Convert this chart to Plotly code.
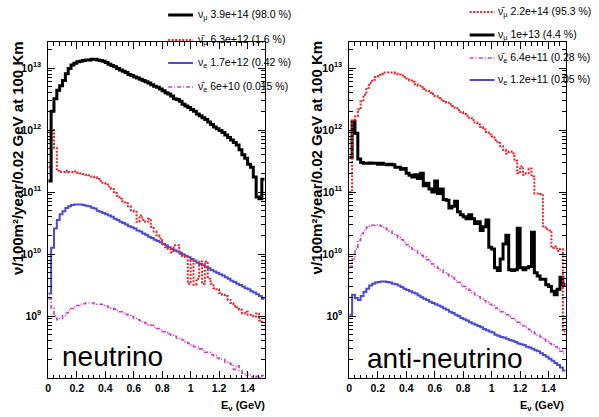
import plotly.graph_objects as go

# ---------------- data (flux per 0.02 GeV bin, bins start at E = 0.00 ... 1.50 GeV) ----------------
BIN_WIDTH = 0.02
N_BINS = 76

# neutrino mode (left panel)
nu_numu = [1.5e11, 2.0e12, 3.2e12, 4.4e12, 5.2e12, 6.3e12, 8.1e12, 9.8e12, 1.12e13, 1.20e13,
           1.26e13, 1.29e13, 1.32e13, 1.35e13, 1.35e13, 1.38e13, 1.38e13, 1.35e13, 1.32e13, 1.29e13,
           1.23e13, 1.15e13, 1.10e13, 1.05e13, 9.8e12, 9.3e12, 8.9e12, 8.5e12, 7.9e12, 7.6e12,
           7.2e12, 6.9e12, 6.6e12, 6.3e12, 6.0e12, 5.75e12, 5.4e12, 5.1e12, 4.9e12, 4.6e12,
           4.3e12, 4.0e12, 3.8e12, 3.55e12, 3.2e12, 3.1e12, 2.9e12, 2.6e12, 2.45e12, 2.3e12,
           2.14e12, 2.0e12, 1.82e12, 1.70e12, 1.58e12, 1.48e12, 1.35e12, 1.23e12, 1.12e12, 1.05e12,
           9.8e11, 9.1e11, 8.3e11, 7.6e11, 6.9e11, 6.3e11, 5.75e11, 4.8e11, 4.0e11, 3.5e11,
           2.8e11, 2.5e11, 1.74e11, 8.3e10, 7.8e10, 1.6e11]
nu_anumu = [2.5e11, 1.0e12, 5.2e11, 2.2e11, 2.1e11, 2.1e11, 2.2e11, 2.1e11, 2.1e11, 2.15e11,
            2.05e11, 2.0e11, 1.95e11, 1.9e11, 1.86e11, 1.78e11, 1.74e11, 1.62e11, 1.51e11, 1.41e11,
            1.32e11, 1.23e11, 1.12e11, 1.0e11, 8.7e10, 7.8e10, 6.8e10, 6.6e10, 5.9e10, 5.1e10,
            4.8e10, 3.3e10, 4.2e10, 3.55e10, 3.3e10, 3.7e10, 2.75e10, 2.3e10, 2.0e10, 1.78e10,
            1.45e10, 1.29e10, 1.2e10, 1.07e10, 1.38e10, 1.38e10, 1.0e10, 9.3e9, 8.9e9, 3.3e9,
            7.9e9, 3.2e9, 4.0e9, 7.6e9, 3.3e9, 7.6e9, 4.0e9, 3.3e9, 2.8e9, 2.7e9,
            2.34e9, 2.2e9, 2.1e9, 1.82e9, 1.62e9, 1.45e9, 1.38e9, 1.26e9, 1.1e9, 1.17e9,
            1.05e9, 1.05e9, 9.8e8, 1.1e9, 8.5e8, 8.1e8]
nu_nue = [2.3e9, 1.26e10, 2.57e10, 3.55e10, 4.4e10, 4.9e10, 5.5e10, 5.9e10, 6.2e10, 6.3e10,
          6.3e10, 6.3e10, 6.2e10, 6.0e10, 5.9e10, 5.6e10, 5.4e10, 5.0e10, 4.8e10, 4.6e10,
          4.4e10, 4.2e10, 4.0e10, 3.7e10, 3.55e10, 3.3e10, 3.16e10, 3.0e10, 2.8e10, 2.7e10,
          2.57e10, 2.4e10, 2.3e10, 2.14e10, 2.04e10, 1.9e10, 1.82e10, 1.7e10, 1.62e10, 1.55e10,
          1.45e10, 1.38e10, 1.29e10, 1.2e10, 1.15e10, 1.1e10, 1.05e10, 9.8e9, 9.3e9, 8.9e9,
          8.3e9, 7.8e9, 7.2e9, 6.9e9, 6.6e9, 6.2e9, 5.9e9, 5.5e9, 5.2e9, 5.0e9,
          4.7e9, 4.5e9, 4.2e9, 4.0e9, 3.7e9, 3.55e9, 3.3e9, 3.16e9, 3.0e9, 2.8e9,
          2.7e9, 2.5e9, 2.4e9, 2.24e9, 2.1e9, 1.9e9]
nu_anue = [1.9e9, 1.32e9, 1.0e9, 8.7e8, 9.1e8, 1.02e9, 1.12e9, 1.23e9, 1.32e9, 1.41e9,
           1.48e9, 1.55e9, 1.58e9, 1.62e9, 1.62e9, 1.62e9, 1.58e9, 1.55e9, 1.55e9, 1.48e9,
           1.45e9, 1.38e9, 1.35e9, 1.29e9, 1.23e9, 1.17e9, 1.12e9, 1.07e9, 1.02e9, 9.8e8,
           9.1e8, 8.7e8, 8.5e8, 7.9e8, 7.6e8, 7.2e8, 7.1e8, 6.6e8, 6.3e8, 6.0e8,
           5.6e8, 5.4e8, 5.1e8, 4.9e8, 4.7e8, 4.4e8, 4.2e8, 4.1e8, 3.8e8, 3.6e8,
           3.4e8, 3.2e8, 3.2e8, 2.95e8, 2.8e8, 2.6e8, 2.6e8, 2.4e8, 2.3e8, 2.1e8,
           2.0e8, 2.0e8, 1.8e8, 1.74e8, 1.66e8, 1.38e8, 1.58e8, 1.32e8, 1.2e8, 1.1e8,
           1.15e8, 1.05e8, 9.5e7, 1.07e8, 1.02e8, 1.1e8]

# anti-neutrino mode (right panel)
anu_anumu = [1.0e11, 1.41e12, 1.66e12, 2.14e12, 2.9e12, 3.7e12, 4.8e12, 5.75e12, 6.5e12, 7.2e12,
             7.8e12, 8.1e12, 8.5e12, 8.5e12, 8.5e12, 8.5e12, 8.1e12, 7.9e12, 7.6e12, 7.2e12,
             6.8e12, 6.3e12, 6.0e12, 5.5e12, 5.2e12, 4.9e12, 4.6e12, 4.3e12, 4.0e12, 3.8e12,
             3.55e12, 3.3e12, 3.1e12, 2.95e12, 2.75e12, 2.6e12, 2.45e12, 2.24e12, 2.1e12, 1.95e12,
             1.82e12, 1.7e12, 1.58e12, 1.45e12, 1.32e12, 1.23e12, 1.12e12, 1.02e12, 9.3e11, 8.5e11,
             7.9e11, 6.9e11, 6.2e11, 5.5e11, 4.8e11, 4.2e11, 4.5e11, 4.2e11, 3.2e11, 2.0e11,
             2.6e11, 1.9e11, 2.0e11, 2.4e11, 1.78e11, 9.5e10, 9.5e10, 9.3e10, 2.8e10, 2.5e10,
             2.4e10, 1.26e10, 1.32e10, 1.12e10, 1.2e10, 5.6e8]
anu_numu = [3.6e11, 1.38e12, 8.9e11, 3.4e11, 3.0e11, 2.9e11, 2.9e11, 2.95e11, 2.9e11, 2.9e11,
            2.8e11, 2.9e11, 2.8e11, 2.75e11, 2.8e11, 2.75e11, 2.5e11, 2.5e11, 2.34e11, 2.4e11,
            2.0e11, 1.86e11, 1.74e11, 1.9e11, 1.66e11, 2.0e11, 1.26e11, 1.38e11, 1.12e11, 1.0e11,
            1.51e11, 9.5e10, 1.12e11, 7.6e10, 7.4e10, 5.5e10, 5.9e10, 7.1e10, 4.8e10, 4.3e10,
            4.0e10, 3.7e10, 4.3e10, 3.7e10, 3.1e10, 3.3e10, 2.4e10, 2.75e10, 3.55e10, 1.29e10,
            1.2e10, 6.0e9, 5.4e9, 8.3e9, 1.45e10, 2.0e10, 5.6e9, 5.4e9, 5.6e9, 2.6e10,
            6.0e9, 5.6e9, 6.0e9, 6.3e9, 2.24e10, 5.0e9, 4.4e9, 3.9e9, 3.9e9, 3.2e9,
            3.0e9, 2.5e9, 2.2e9, 2.7e9, 4.2e9, 3.2e9]
anu_anue = [6.3e9, 8.3e9, 1.2e10, 1.66e10, 2.14e10, 2.4e10, 2.7e10, 2.8e10, 2.9e10, 2.95e10,
            2.9e10, 2.8e10, 2.7e10, 2.5e10, 2.34e10, 2.14e10, 2.0e10, 1.82e10, 1.7e10, 1.55e10,
            1.41e10, 1.32e10, 1.2e10, 1.12e10, 1.02e10, 9.5e9, 8.9e9, 8.1e9, 7.6e9, 6.9e9,
            6.3e9, 5.9e9, 5.5e9, 5.0e9, 4.7e9, 4.4e9, 4.1e9, 3.7e9, 3.5e9, 3.2e9,
            3.0e9, 2.75e9, 2.6e9, 2.4e9, 2.2e9, 2.04e9, 1.9e9, 1.78e9, 1.66e9, 1.55e9,
            1.45e9, 1.35e9, 1.26e9, 1.17e9, 1.12e9, 1.05e9, 9.8e8, 9.1e8, 8.5e8, 7.9e8,
            7.4e8, 6.9e8, 6.5e8, 6.0e8, 5.6e8, 5.2e8, 4.9e8, 4.6e8, 4.2e8, 3.9e8,
            3.6e8, 3.4e8, 3.2e8, 2.95e8, 2.7e8, 2.5e8]
anu_nue = [1.05e9, 2.2e9, 1.95e9, 1.82e9, 2.1e9, 2.45e9, 2.75e9, 3.1e9, 3.3e9, 3.47e9,
           3.55e9, 3.6e9, 3.6e9, 3.55e9, 3.47e9, 3.3e9, 3.24e9, 3.1e9, 2.95e9, 2.75e9,
           2.63e9, 2.5e9, 2.4e9, 2.3e9, 2.14e9, 2.0e9, 1.9e9, 1.82e9, 1.7e9, 1.62e9,
           1.55e9, 1.48e9, 1.41e9, 1.32e9, 1.26e9, 1.17e9, 1.12e9, 1.05e9, 1.0e9, 9.3e8,
           8.9e8, 8.5e8, 7.9e8, 7.6e8, 7.2e8, 6.9e8, 6.6e8, 6.2e8, 5.9e8, 5.6e8,
           5.4e8, 5.0e8, 4.8e8, 4.6e8, 4.5e8, 4.3e8, 4.1e8, 4.0e8, 3.8e8, 3.6e8,
           3.5e8, 3.4e8, 3.2e8, 3.1e8, 2.95e8, 2.8e8, 2.7e8, 2.5e8, 2.34e8, 2.2e8,
           2.04e8, 1.9e8, 1.74e8, 1.62e8, 1.48e8, 1.32e8]

legend_nu = ["ν<sub>μ</sub> 3.9e+14 (98.0 %)", "ν̄<sub>μ</sub> 6.3e+12 (1.6 %)",
             "ν<sub>e</sub> 1.7e+12 (0.42 %)", "ν̄<sub>e</sub> 6e+10 (0.015 %)"]
legend_anu = ["ν̄<sub>μ</sub> 2.2e+14 (95.3 %)", "ν<sub>μ</sub> 1e+13 (4.4 %)",
              "ν̄<sub>e</sub> 6.4e+11 (0.28 %)", "ν<sub>e</sub> 1.2e+11 (0.05 %)"]
x_tick_vals = [0, 0.2, 0.4, 0.6, 0.8, 1.0, 1.2, 1.4]
x_tick_text = ["0", "0.2", "0.4", "0.6", "0.8", "1", "1.2", "1.4"]
y_tick_vals = [1e9, 1e10, 1e11, 1e12, 1e13]
y_tick_text = ["10<sup>9</sup>", "10<sup>10</sup>", "10<sup>11</sup>", "10<sup>12</sup>", "10<sup>13</sup>"]
y_title = "ν/100m²/year/0.02 GeV at 100 Km"
x_title = "E<sub>ν</sub> (GeV)"
panel_labels = ["neutrino", "anti-neutrino"]

# ---------------- styling ----------------
W, H = 599, 417
FONT = "Liberation Sans, Arial, Helvetica, sans-serif"
RED, BLUE, MAG = "#e8262a", "#4b4bd0", "#cc3dcc"
STY_NUMU = dict(color="black", width=3)
STY_ANUMU = dict(color=RED, width=2, dash="2px,1.5px")
STY_NUE = dict(color=BLUE, width=2)
STY_ANUE = dict(color=MAG, width=1.6, dash="4px,2px,1px,2px")

edges = [round(BIN_WIDTH * i, 2) for i in range(N_BINS + 1)]


def px(x):
    return x / W


def py(y):
    return 1 - y / H


fig = go.Figure()


def add_hist(vals, style, xa, ya, name):
    fig.add_trace(go.Scatter(x=edges, y=list(vals) + [vals[-1]], mode="lines", line_shape="hv",
                             line=style, xaxis=xa, yaxis=ya, name=name, showlegend=False,
                             cliponaxis=True, hoverinfo="skip"))


add_hist(nu_anue, STY_ANUE, "x", "y", "anue")
add_hist(nu_nue, STY_NUE, "x", "y", "nue")
add_hist(nu_anumu, STY_ANUMU, "x", "y", "anumu")
add_hist(nu_numu, STY_NUMU, "x", "y", "numu")

add_hist(anu_nue, STY_NUE, "x2", "y2", "nue")
add_hist(anu_anue, STY_ANUE, "x2", "y2", "anue")
add_hist(anu_numu, STY_NUMU, "x2", "y2", "numu")
add_hist(anu_anumu, STY_ANUMU, "x2", "y2", "anumu")

ydom = [py(378), py(42)]
xdom1 = [px(45.5), px(263)]
xdom2 = [px(348), px(565.5)]

xax = dict(range=[0, 1.52], showline=True, linecolor="black", linewidth=1, mirror="ticks",
           ticks="inside", ticklen=7, tickcolor="black", tickvals=x_tick_vals, ticktext=x_tick_text,
           minor=dict(ticks="inside", ticklen=3.5, dtick=0.04, tick0=0, tickcolor="black"),
           showgrid=False, zeroline=False,
           tickfont=dict(family=FONT, size=10.5, color="black", weight="bold"))
yax = dict(type="log", range=[8, 13.42], showline=True, linecolor="black", linewidth=1,
           mirror="ticks", ticks="inside", ticklen=7, tickcolor="black",
           tickmode="array", tickvals=y_tick_vals, ticktext=y_tick_text,
           minor=dict(ticks="inside", ticklen=3.5, dtick="D1", tickcolor="black"),
           showgrid=False, zeroline=False, ticklabelstandoff=4,
           tickfont=dict(family=FONT, size=10.5, color="black", weight="bold"))

fig.update_layout(
    width=W, height=H, margin=dict(l=0, r=0, t=0, b=0),
    paper_bgcolor="white", plot_bgcolor="white", showlegend=False,
    xaxis=dict(domain=xdom1, anchor="y", **xax),
    yaxis=dict(domain=ydom, anchor="x", **yax),
    xaxis2=dict(domain=xdom2, anchor="y2", **xax),
    yaxis2=dict(domain=ydom, anchor="x2", **yax),
)

ann = []
shapes = []


def legend_block(labels, styles, x0, x1, xt, ys):
    for lab, st, y in zip(labels, styles, ys):
        shapes.append(dict(type="line", xref="paper", yref="paper", x0=px(x0), x1=px(x1),
                           y0=py(y), y1=py(y), line=st))
        ann.append(dict(text=lab, xref="paper", yref="paper", x=px(xt), y=py(y), xanchor="left",
                        yanchor="middle", showarrow=False,
                        font=dict(family=FONT, size=10.5, color="black")))


legend_block(legend_nu, [STY_NUMU, STY_ANUMU, STY_NUE, STY_ANUE], 166, 191, 194, [15, 40, 63, 87])
legend_block(legend_anu, [STY_ANUMU, STY_NUMU, STY_ANUE, STY_NUE], 469, 494, 495, [12, 35, 58, 80])

# axis titles
for xc in (14, 315):
    ann.append(dict(text=y_title, xref="paper", yref="paper", x=px(xc), y=py(158), textangle=-90,
                    xanchor="center", yanchor="middle", showarrow=False,
                    font=dict(family=FONT, size=15, color="black", weight="bold")))
for xr in (265, 566):
    ann.append(dict(text=x_title, xref="paper", yref="paper", x=px(xr), y=py(406), xanchor="right",
                    yanchor="middle", showarrow=False,
                    font=dict(family=FONT, size=11, color="black", weight="bold")))

# panel labels
ann.append(dict(text=panel_labels[0], xref="paper", yref="paper", x=px(57), y=py(356),
                xanchor="left", yanchor="middle", showarrow=False,
                font=dict(family=FONT, size=28, color="black")))
ann.append(dict(text=panel_labels[1], xref="paper", yref="paper", x=px(364), y=py(358),
                xanchor="left", yanchor="middle", showarrow=False,
                font=dict(family=FONT, size=28, color="black")))

fig.update_layout(annotations=ann, shapes=shapes)
fig.write_html("out.html", config={"displayModeBar": False},
               post_script="document.body.style.margin='0';")
